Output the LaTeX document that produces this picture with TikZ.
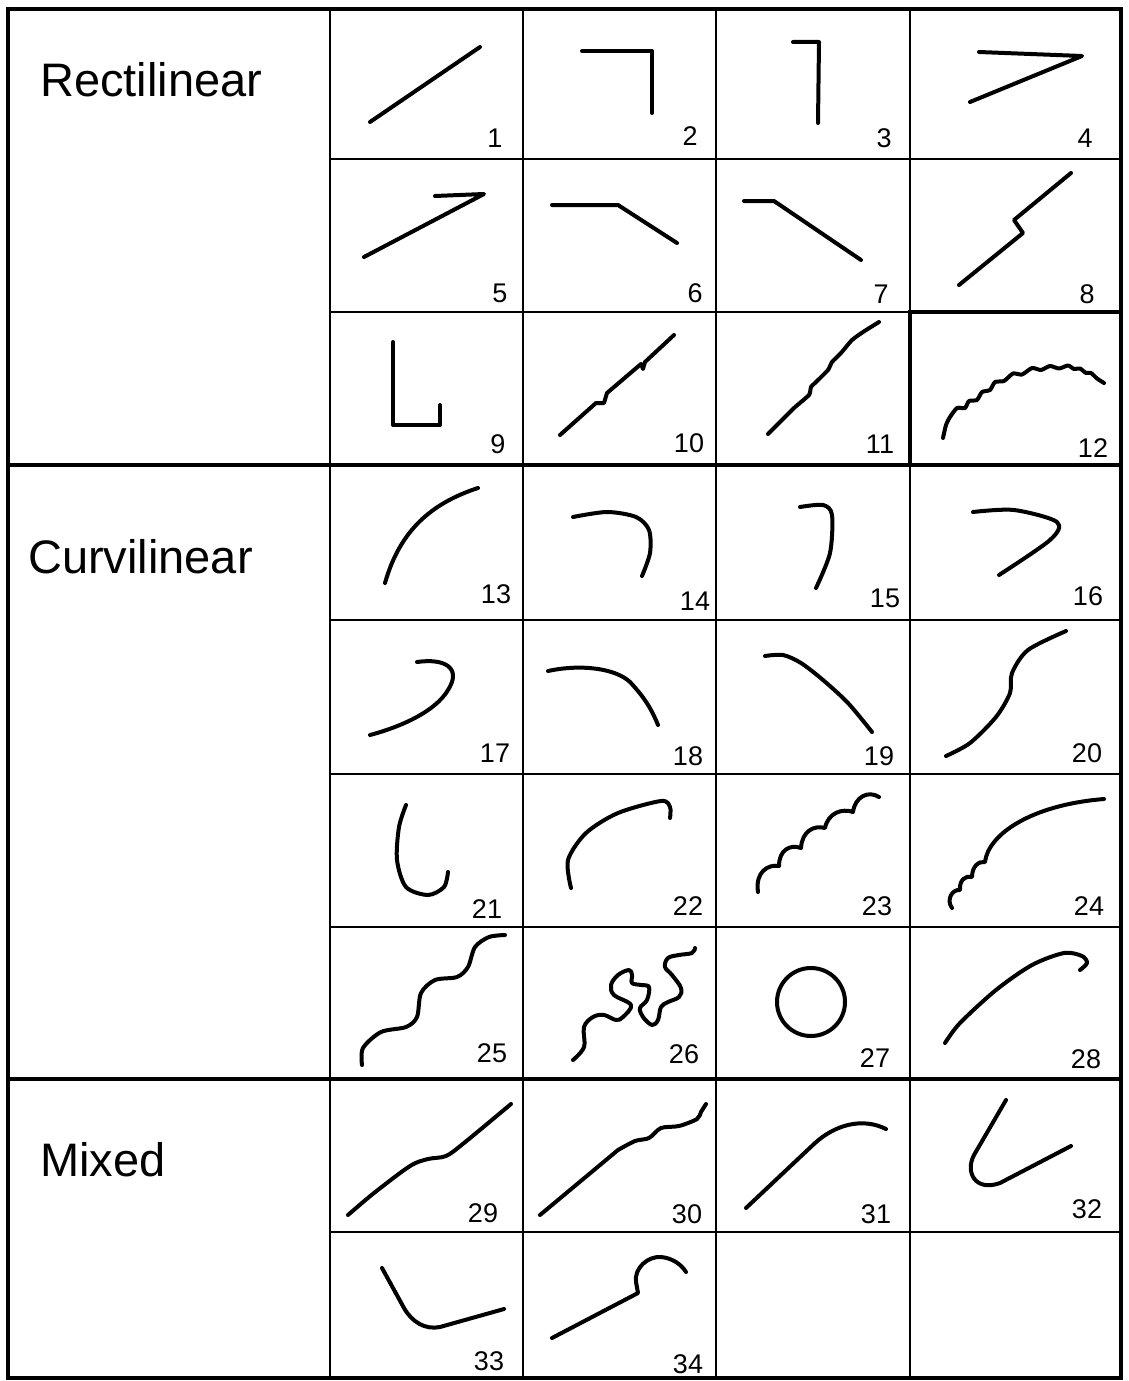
\documentclass[tikz,border=0pt]{standalone}
\usepackage{fontspec}
\setmainfont{Liberation Sans}

\tikzset{
  rule/.style={line width=2pt},
  heavyrule/.style={line width=3.8pt},
  pen/.style={line width=4pt, line cap=round, line join=round},
  classlabel/.style={font=\fontsize{47}{52}\selectfont, anchor=base west, inner sep=0pt},
  cellnum/.style={font=\fontsize{27}{29}\selectfont, anchor=base, inner sep=0pt},
}

\begin{document}
\begin{tikzpicture}[x=1pt, y=-1pt]
\useasboundingbox (0,0) rectangle (1128,1381);

% table
\foreach \x in {330,523,716,910}
  \draw[rule] (\x,9) -- (\x,1378);
\foreach \y in {159,312,620,774,927,1232}
  \draw[rule] (330,\y) -- (1121,\y);
\draw[heavyrule] (8,465) -- (1121,465);
\draw[heavyrule] (8,1079) -- (1121,1079);
\draw[heavyrule] (910,465) -- (910,312) -- (1121,312);
\draw[heavyrule] (8,9) rectangle (1121,1378);

\node[classlabel] (rect)  at (40,96)   {Rectilinear};
\node[classlabel] (curv)  at (28,573)  {Curvilinear};
\node[classlabel] (mixed) at (40,1176) {Mixed};

\foreach \n/\x/\y in {1/495/147, 2/690/145, 3/884/147, 4/1085/147,
    5/500/302, 6/695/302, 7/881/303, 8/1087/303,
    9/498/453, 10/689/452, 11/880/453, 12/1093/457,
    13/496/603, 14/695/610, 15/885/607, 16/1088/605,
    17/495/762, 18/688/765, 19/879/765, 20/1087/762,
    21/487/918, 22/688/915, 23/877/915, 24/1089/915,
    25/492/1062, 26/684/1063, 27/875/1067, 28/1086/1068,
    29/483/1222, 30/687/1223, 31/876/1223, 32/1087/1218,
    33/489/1370, 34/688/1373}
  \node[cellnum] (n\n) at (\x,\y) {\n};

% rectilinear
\draw[pen] (370,122) -- (480,47);
\draw[pen] (582,51) -- (652,51) -- (652,113);
\draw[pen] (793,42) -- (819,42) -- (818,123);
\draw[pen] (979,52) -- (1082,56) -- (970,102);
\draw[pen] (435,196) -- (484,194) -- (364,257);
\draw[pen] (552,205) -- (618,205) -- (677,243);
\draw[pen] (744,201) -- (774,201) -- (861,260);
\draw[pen] (959,285) -- (1023,233) -- (1014,220) -- (1071,173);
\draw[pen] (393,342) -- (393,425) -- (440,425) -- (440,405);
\draw[pen] (560,435) -- (596,403) -- (604,403) -- (607,393) -- (641,364)
  -- (643,369) -- (645,362) -- (674,335);
\draw[pen] plot[smooth, tension=0.3] coordinates {(768,434) (780,422) (794,408) (809,395)
  (811,387) (816,382) (828,370) (832,362) (841,353) (852,340) (863,332) (879,322)};
\draw[pen] plot[smooth, tension=0.4] coordinates {(943,438) (946,425) (950,417) (957,408)
  (965,408) (969,401) (977,400) (982,392) (990,390) (995,382) (1004,381) (1013,373.5)
  (1022,374.5) (1032,368) (1041,370) (1050,366) (1059,368.5) (1068,365.5) (1074,369)
  (1080,368.5) (1086,373) (1091,373) (1097,378.5) (1104,383)};

% curvilinear
\draw[pen] (385,583) .. controls (400,530) and (432,503) .. (478,488);
\draw[pen] plot[smooth] coordinates {(573,517) (607,512) (636,517) (649,530) (650,553) (642,576)};
\draw[pen] plot[smooth] coordinates {(800,507) (823,505) (832,515) (830,553) (816,588)};
\draw[pen] plot[smooth] coordinates {(973,512) (1014,510) (1057,522) (1050,540) (999,575)};
\draw[pen] (417,662) .. controls (445,658) and (462,668) .. (448,690)
  .. controls (435,712) and (400,727) .. (370,735);
\draw[pen] (548,671) .. controls (580,664) and (615,668) .. (630,682)
  .. controls (645,698) and (652,710) .. (658,725);
\draw[pen] plot[smooth] coordinates {(765,656) (783,655) (801,663) (823,680) (848,703) (872,732)};
\draw[pen] plot[smooth] coordinates {(946,756) (970,743) (996,717) (1010,693) (1012,673)
  (1028,650) (1066,631)};
\draw[pen] plot[smooth] coordinates {(406,805) (399,827) (397,860) (406,887) (428,895)
  (444,887) (448,872)};
\draw[pen] plot[smooth] coordinates {(571,888) (568,860) (586,833) (618,813) (661,801)
  (670,807) (670,818)};
\draw[pen] (758,892) .. controls (755,872) and (768,864) .. (779,866)
  .. controls (779,850) and (790,844) .. (801,848)
  .. controls (802,831) and (814,825) .. (825,828)
  .. controls (828,813) and (842,808) .. (853,812)
  .. controls (855,797) and (868,790) .. (879,797);
\draw[pen] (952,908) .. controls (946,900) and (952,889) .. (960,890)
  .. controls (959,880) and (966,875) .. (972,877)
  .. controls (972,866) and (979,861) .. (985,862)
  .. controls (988,835) and (1030,805) .. (1104,799);
\draw[pen] plot[smooth] coordinates {(362,1065) (363,1048) (381,1032) (406,1027) (417,1017)
  (421,993) (435,980) (457,977) (468,967) (475,947) (489,937) (505,935)};
\draw[pen] plot[smooth, tension=0.6] coordinates {(573,1060) (584,1047) (584,1027) (593,1017)
  (604,1015) (616,1020) (623,1017) (631,1005) (614,995) (611,985) (618,975) (629,970)
  (632,975) (632,983) (641,985) (649,987) (647,1000) (640,1008) (643,1017) (652,1025)
  (658,1020) (661,1007) (668,1002) (679,997) (681,988) (672,975) (665,967) (668,958)
  (679,955) (692,953) (695,948)};
\draw[pen] (811,1002) circle[radius=34];
\draw[pen] plot[smooth] coordinates {(945,1043) (960,1023) (996,990) (1032,965) (1064,953)
  (1082,956) (1087,963) (1080,970)};

% mixed
\draw[pen] plot[smooth, tension=0.5] coordinates {(348,1215) (374,1193) (410,1166) (428,1159)
  (446,1156) (464,1143) (511,1104)};
\draw[pen] (540,1215) -- plot[smooth] coordinates {(618,1150) (635,1141) (649,1138) (661,1128)
  (679,1126) (697,1119) (701,1112) (706,1104)};
\draw[pen] (746,1208) -- (815,1143) .. controls (835,1125) and (862,1117) .. (886,1129);
\draw[pen] (1006,1100) -- (974,1155) .. controls (965,1172) and (975,1192) .. (1000,1183)
  -- (1071,1146);
\draw[pen] (382,1268) -- (404,1308) .. controls (412,1322) and (425,1330) .. (440,1327)
  -- (504,1309);
\draw[pen] (552,1338) -- (638,1293) -- (636,1282) .. controls (634,1268) and (648,1256) .. (661,1257)
  .. controls (672,1258) and (681,1264) .. (686,1272);
\end{tikzpicture}
\end{document}
